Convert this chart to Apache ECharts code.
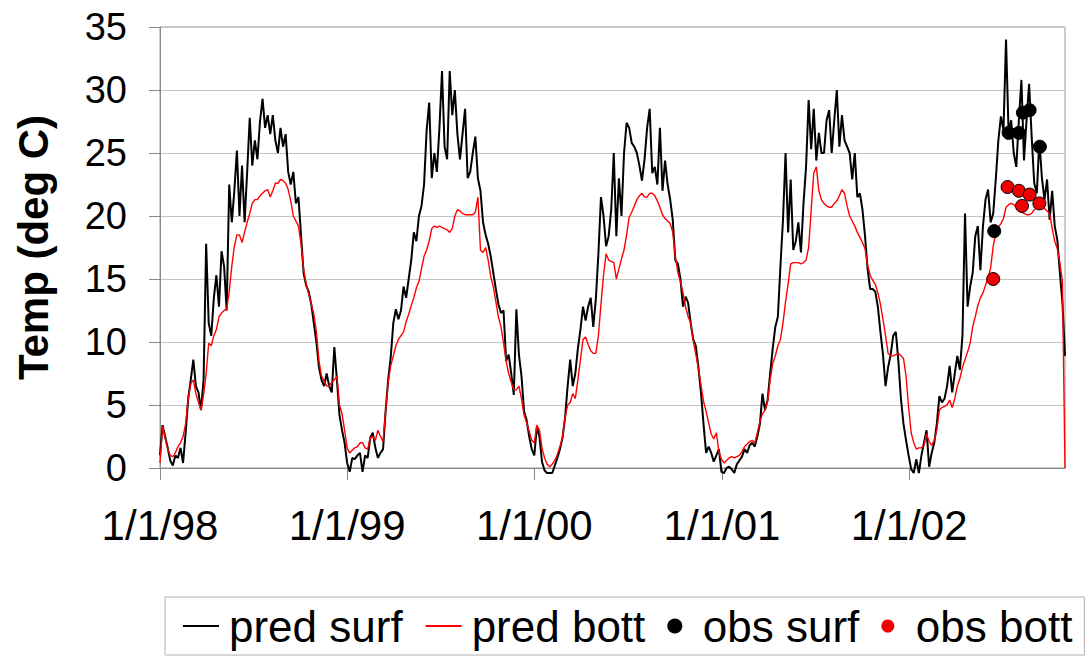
<!DOCTYPE html>
<html>
<head>
<meta charset="utf-8">
<script src="https://cdn.jsdelivr.net/npm/echarts@6/dist/echarts.min.js"></script>
<style>
html,body{margin:0;padding:0;background:#fff;}
#chart{width:1088px;height:656px;}
</style>
</head>
<body>
<div id="chart"></div>
<script>
// Sampling: days since 1/1/98, one value every 5 days
const sampleStepDays = 5;
const tickDays = [0, 365, 730, 1096, 1461];
const tickLabels = ['1/1/98', '1/1/99', '1/1/00', '1/1/01', '1/1/02'];
const yTicks = [0, 5, 10, 15, 20, 25, 30, 35];

const predSurf = [
  1.0, 3.4, 2.5, 1.6, 0.6, 0.2, 1.0, 0.8, 1.6, 0.4,
  2.8, 5.5, 7.0, 8.6, 6.5, 6.0, 4.6, 7.0, 17.8, 11.5,
  10.5, 13.5, 15.3, 12.8, 17.2, 16.0, 12.5, 22.5, 19.5, 22.0,
  25.2, 20.0, 24.0, 19.5, 23.5, 27.8, 24.0, 26.0, 24.5, 27.5,
  29.3, 27.0, 28.0, 26.5, 28.0, 26.0, 25.0, 27.0, 25.5, 26.5,
  23.5, 22.5, 23.5, 21.0, 21.5, 18.5, 15.5, 14.5, 14.0, 13.0,
  11.5, 10.0, 8.0, 7.0, 6.5, 7.5, 6.5, 6.0, 9.6, 7.0,
  4.2, 3.0, 2.0,
  0.4, -0.3, 0.8, 0.7, 1.0, 1.2, -0.3,
  1.0, 0.8, 2.4, 2.8, 1.6, 0.8, 1.2, 1.5, 4.5, 7.0,
  8.8, 11.5, 12.6, 11.8, 12.5, 14.4, 13.5, 15.0, 16.5, 18.7,
  18.0, 20.0, 20.8, 22.5, 26.8, 29.0, 23.0, 25.0, 23.5, 27.0,
  31.5, 25.5, 24.5, 31.5, 28.0, 30.0, 26.5, 24.5, 26.5, 28.5,
  23.0, 23.5, 25.0, 26.3, 23.0, 22.0, 19.5, 18.5, 17.8, 16.8,
  15.5, 14.2, 13.0, 12.3, 12.5, 8.5, 9.0, 7.5, 5.8, 12.6,
  9.0, 7.3, 4.5, 3.8, 2.5, 1.5,
  1.0, 3.3, 2.5, 0.5,
  -0.2, -0.4, -0.4, -0.4, 0.2, 0.8, 1.5, 2.4, 4.0, 6.5,
  8.6, 6.5, 7.5, 9.5, 11.0, 12.8, 11.7, 12.8, 13.5, 11.2,
  13.4, 17.0, 21.5, 20.0, 17.6, 18.4, 20.5, 25.0, 18.4, 23.0,
  20.0, 25.0, 27.4, 27.0, 25.8, 25.5, 25.0, 24.0, 22.8, 24.5,
  27.0, 28.5, 23.4, 23.9, 22.5, 27.0, 22.0, 24.4, 22.5, 21.3,
  19.7, 16.5, 16.2, 15.0, 12.8, 13.6, 13.1, 11.5, 10.2, 9.7,
  8.0, 6.0, 3.5, 1.2, 1.7, 1.2, 0.5, 1.0, 1.5,
  -0.3,
  -0.4, 0.0, 0.1, -0.1, -0.4, 0.3, 0.6, 0.9, 1.5, 1.2,
  1.8, 2.0, 1.7, 2.5, 3.5, 5.9, 4.6, 5.4, 7.5, 9.5,
  11.2, 12.0, 16.0, 19.7, 25.0, 18.7, 22.9, 17.3, 18.0, 19.5,
  17.1, 21.0, 23.9, 29.2, 25.3, 28.5, 24.4, 26.6, 25.0, 25.0,
  27.6, 28.4, 25.0, 27.6, 30.0, 25.5, 28.0, 26.0, 25.5, 25.0,
  22.9, 25.0, 21.5, 21.8, 20.5, 18.4, 15.8, 14.2, 14.2, 14.0,
  12.8, 10.8, 9.0, 6.5, 8.0, 9.0, 10.5, 10.8, 8.5, 5.5,
  3.5, 2.2, 1.0,
  -0.1, -0.4, 0.7, -0.4, 1.0, 2.0, 3.0,
  0.1, 1.2, 2.0, 3.5, 5.7, 5.2, 5.5, 6.5, 8.1, 6.0,
  7.5, 8.9, 7.8, 10.5, 20.2, 12.8, 14.4, 15.5, 18.4, 19.2,
  15.7, 19.2, 21.3, 22.1, 19.5, 20.2, 22.9, 26.0, 27.9, 26.8,
  34.0, 26.6, 27.6, 25.0, 23.9, 27.6, 30.8, 24.4, 27.6, 30.5,
  26.3, 22.6, 21.8, 26.0, 23.0, 21.3, 22.9, 19.7, 22.0, 19.2,
  18.1, 15.5, 13.1, 8.9
];

const predBott = [
  0.4, 3.3, 2.4, 1.5, 1.0, 0.9, 1.2, 1.7, 2.0, 2.5,
  3.5, 5.5, 6.7, 7.0, 5.9, 5.2, 4.6, 5.8, 7.5, 9.9,
  9.7, 10.5, 11.0, 12.0, 12.3, 12.5, 12.6, 14.0, 16.0, 17.6,
  18.5, 18.5, 17.9, 18.7, 19.5, 20.2, 21.0, 21.3, 21.3, 21.6,
  21.8, 22.0, 22.1, 21.5, 22.0, 22.6, 22.6, 22.9, 22.8, 22.6,
  22.1, 21.2, 20.0, 19.6, 19.2, 17.8, 15.8, 14.6, 13.8, 13.0,
  12.2, 10.8, 8.5, 7.3, 6.9, 6.5, 6.5, 6.8, 7.0, 7.3,
  5.0, 4.3, 3.0,
  1.6, 1.2, 1.4, 1.6, 1.7, 2.0, 2.0,
  1.6, 1.5, 2.4, 2.5, 2.2, 3.0, 2.5, 2.1, 4.5, 6.8,
  8.1, 8.9, 9.7, 10.2, 10.5, 10.8, 11.6, 12.2, 12.9, 13.5,
  14.3, 14.8, 15.8, 16.8, 17.3, 18.0, 19.0, 19.2, 19.1, 19.2,
  19.1, 19.0, 18.9, 18.7, 19.0, 20.0, 20.5, 20.4, 20.2, 20.1,
  20.1, 20.1, 20.1, 20.3, 21.5, 17.3, 17.1, 17.5, 16.5, 15.2,
  14.4, 13.2, 12.0, 11.2, 9.9, 8.5, 7.5, 6.8, 6.2, 6.2,
  6.5, 5.5, 4.2, 3.6, 2.9, 2.2,
  2.0, 3.4, 3.0, 1.6,
  0.8, 0.3, 0.1, 0.3, 0.6, 1.1, 1.7, 2.4, 4.0, 5.0,
  5.2, 5.9, 5.5, 7.0, 8.6, 10.2, 10.4, 9.8, 9.3, 9.1,
  9.1, 10.5, 13.0, 15.3, 17.0, 16.5, 16.4, 16.3, 15.0, 15.8,
  16.6, 17.3, 18.5, 19.9, 20.3, 20.8, 21.3, 21.6, 21.8, 21.5,
  21.5, 21.8, 21.8, 21.6, 21.2, 20.7, 20.1, 19.8, 19.6, 19.4,
  18.7, 16.8, 15.5, 14.8, 13.9, 12.8, 12.0, 11.5, 10.1, 9.0,
  7.9, 6.6, 5.3, 4.5, 3.6, 2.7, 2.3,
  2.8, 1.3, 0.7,
  0.4, 0.6, 0.8, 0.9, 0.8, 0.9, 1.0, 1.3, 1.7, 1.9,
  2.1, 2.2, 2.0, 2.8, 3.7, 4.3, 4.6, 5.3, 7.0, 8.3,
  8.9, 9.7, 10.2, 11.5, 13.2, 14.6, 16.2, 16.3, 16.3, 16.3,
  16.2, 16.3, 16.5, 17.5, 20.5, 23.4, 23.9, 22.0, 21.3, 21.0,
  20.8, 20.7, 20.7, 21.0, 21.2, 21.6, 22.1, 21.8, 20.8, 20.0,
  19.6, 19.2, 18.7, 18.3, 17.9, 17.4, 16.1, 15.3, 14.9, 14.6,
  13.9, 13.0, 11.8, 10.5, 9.1, 8.9, 8.9, 9.0, 9.1, 8.9,
  8.7, 7.3, 4.8,
  2.8, 2.0, 1.5, 1.6, 1.6, 1.8, 2.7,
  2.1, 1.8, 2.2, 3.0, 4.6, 4.8, 4.9, 5.0, 5.4, 4.8,
  5.5, 6.5, 7.1, 8.0, 8.6, 9.2, 9.9, 11.2, 12.0, 12.9,
  13.5, 13.9, 14.5, 15.1, 15.9, 17.6, 18.6, 19.1, 19.4, 19.8,
  20.7, 20.9, 21.0, 20.9, 20.7, 20.5, 20.3, 20.2, 20.1, 20.1,
  20.2, 20.5, 20.7, 20.7, 20.7, 20.6, 20.4, 20.2, 19.0, 18.0,
  17.4, 16.3, 14.8, 0.0
];

const obsSurfDays = [1627, 1655, 1675, 1683, 1696, 1716];
const obsSurfVals = [18.8, 26.6, 26.6, 28.2, 28.4, 25.5];
const obsBottDays = [1625, 1653, 1675, 1696, 1681, 1715];
const obsBottVals = [15.0, 22.3, 22.0, 21.7, 20.8, 21.0];

const lastDay = (predSurf.length - 1) * sampleStepDays;
const FONT = "'Liberation Sans', Arial, sans-serif";

const toPairs = (vals) => vals.map((v, i) => [i * sampleStepDays, v]);
const zipPairs = (xs, ys) => xs.map((x, i) => [x, ys[i]]);

const chart = echarts.init(document.getElementById('chart'), null, {renderer: 'svg'});
chart.setOption({
  animation: false,
  backgroundColor: '#ffffff',
  textStyle: {fontFamily: FONT, color: '#000'},
  grid: {
    left: 160, right: 23, top: 27, bottom: 188,
    containLabel: false, outerBoundsMode: 'none',
    show: true, borderColor: '#9a9a9a', borderWidth: 1
  },
  xAxis: {
    type: 'value', min: 0, max: lastDay,
    axisLine: {show: true, lineStyle: {color: '#8a8a8a', width: 1}},
    axisTick: {show: true, length: 12, customValues: tickDays, lineStyle: {color: '#8a8a8a'}},
    axisLabel: {
      customValues: tickDays, margin: 36, fontSize: 42, color: '#000', fontFamily: FONT,
      formatter: (v) => { const i = tickDays.indexOf(v); return i >= 0 ? tickLabels[i] : ''; }
    },
    splitLine: {show: false}
  },
  yAxis: {
    type: 'value', min: yTicks[0], max: yTicks[yTicks.length - 1], interval: 5,
    name: 'Temp (deg C)', nameLocation: 'middle', nameGap: 106,
    nameTextStyle: {fontSize: 42, fontWeight: 'bold', color: '#000', fontFamily: FONT},
    axisLine: {show: true, lineStyle: {color: '#8a8a8a', width: 1}},
    axisTick: {show: true, length: 11, lineStyle: {color: '#8a8a8a'}},
    axisLabel: {margin: 33, fontSize: 38, color: '#000', fontFamily: FONT},
    splitLine: {show: true, lineStyle: {color: '#c4c4c4', width: 1}}
  },
  legend: {
    left: 165, top: 597,
    padding: [7, 12, 7, 17],
    borderColor: '#b0b0b0', borderWidth: 1, backgroundColor: '#fff',
    itemWidth: 36, itemHeight: 13, itemGap: 22,
    textStyle: {fontSize: 44, color: '#000', fontFamily: FONT, padding: [0, 0, 0, 5]},
    data: [
      {name: 'pred surf', itemStyle: {opacity: 0}, lineStyle: {width: 2}},
      {name: 'pred bott', itemStyle: {opacity: 0}, lineStyle: {width: 2}},
      {name: 'obs surf', itemStyle: {opacity: 1}},
      {name: 'obs bott', itemStyle: {opacity: 1, borderWidth: 0}}
    ]
  },
  series: [
    {
      name: 'pred surf', type: 'line', data: toPairs(predSurf),
      symbol: 'none', showSymbol: false, clip: false,
      color: '#000', lineStyle: {color: '#000', width: 2}, z: 2
    },
    {
      name: 'pred bott', type: 'line', data: toPairs(predBott),
      symbol: 'none', showSymbol: false, clip: false,
      color: '#ff0000', lineStyle: {color: '#ff0000', width: 1.4}, z: 3
    },
    {
      name: 'obs surf', type: 'scatter', data: zipPairs(obsSurfDays, obsSurfVals),
      symbol: 'circle', symbolSize: 13,
      itemStyle: {color: '#000', borderColor: '#000', borderWidth: 1, opacity: 1}, z: 4
    },
    {
      name: 'obs bott', type: 'scatter', data: zipPairs(obsBottDays, obsBottVals),
      symbol: 'circle', symbolSize: 13,
      itemStyle: {color: '#ee0000', borderColor: '#000', borderWidth: 1, opacity: 1}, z: 5
    }
  ]
});
</script>
</body>
</html>
